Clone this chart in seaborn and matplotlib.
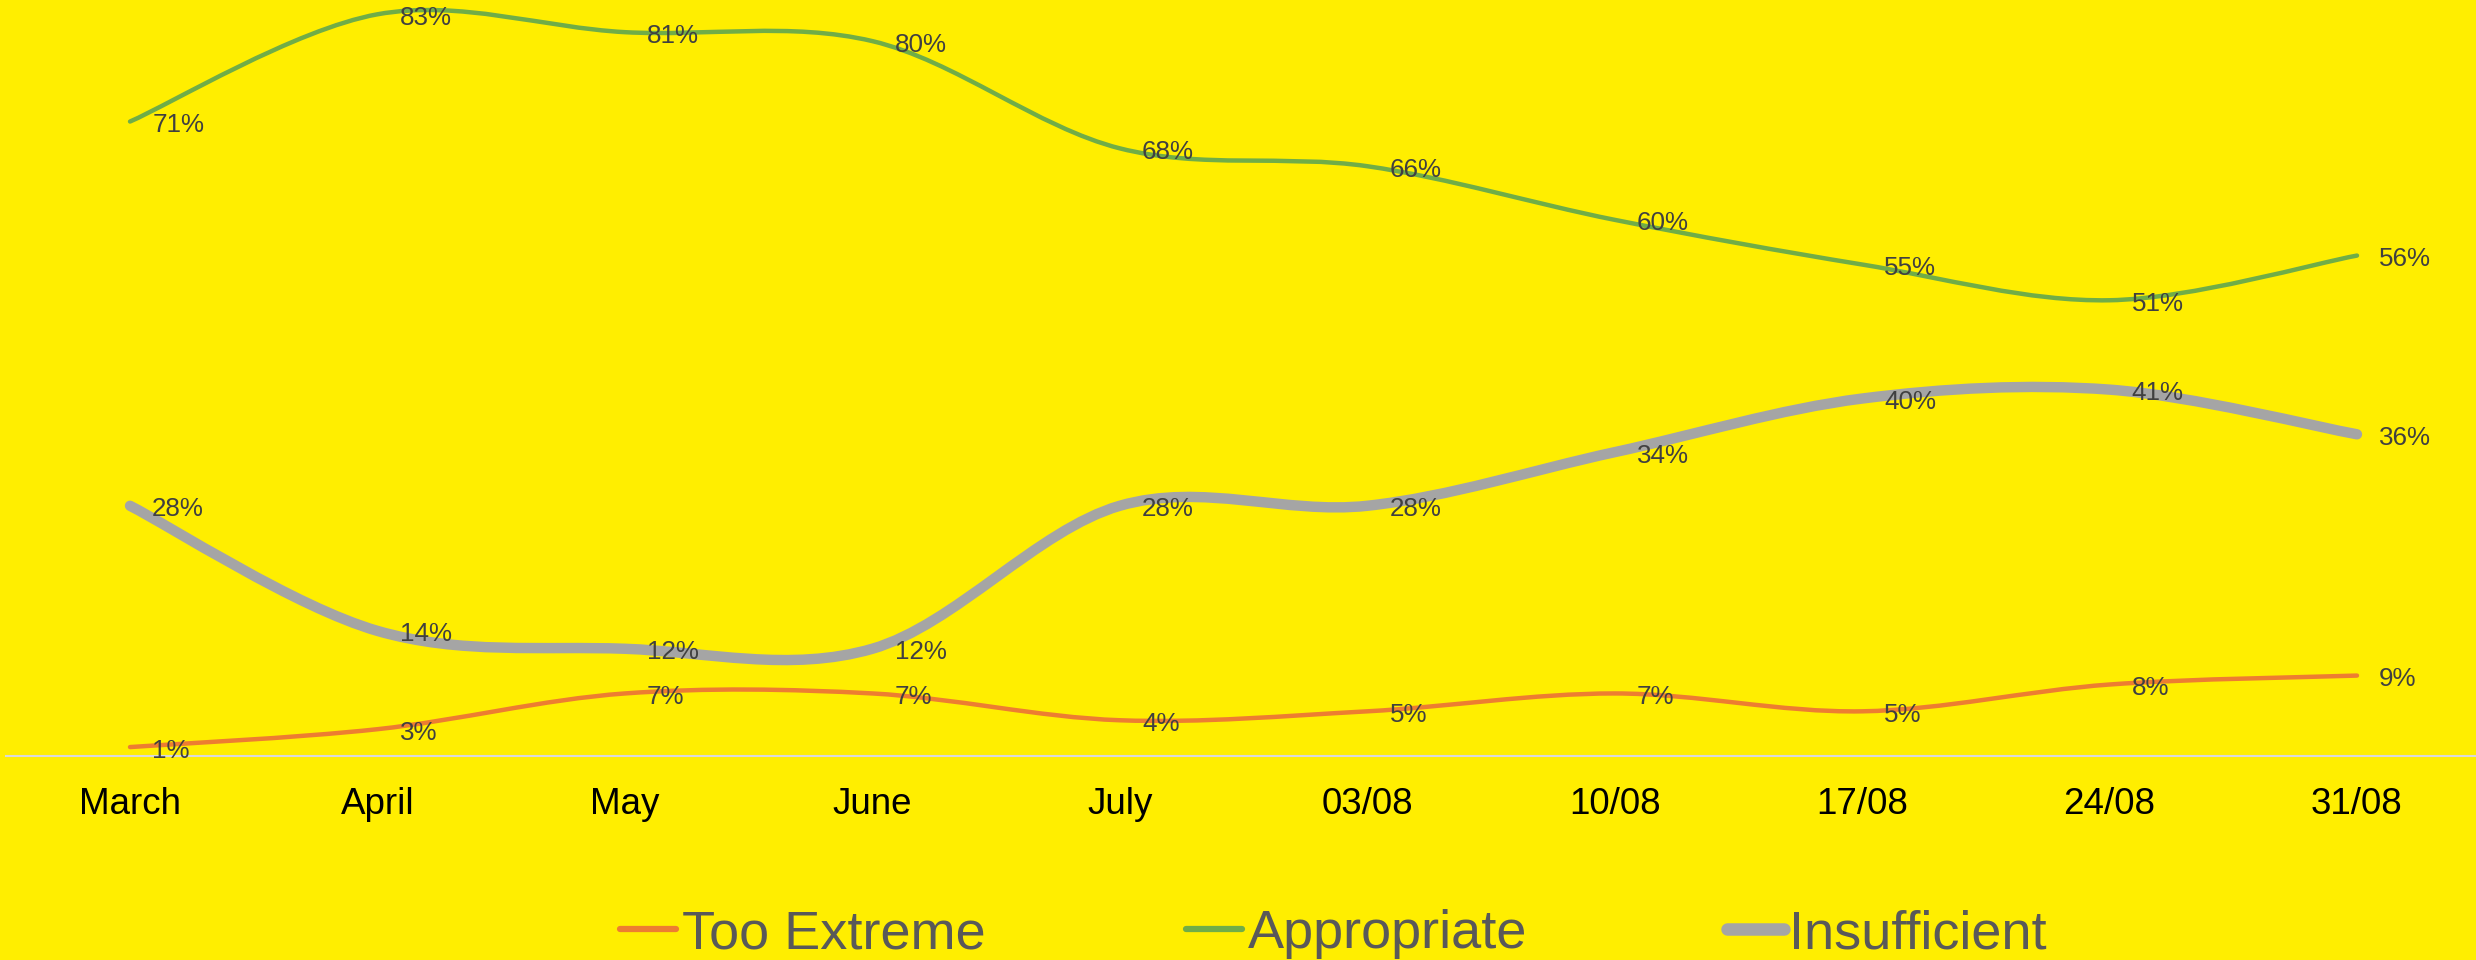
import numpy as np
import matplotlib
matplotlib.use("Agg")
import matplotlib.pyplot as plt
from matplotlib.path import Path
from matplotlib.patches import PathPatch
from matplotlib.lines import Line2D
import seaborn as sns

# ----------------------------
# Data
# ----------------------------
categories = ["March", "April", "May", "June", "July",
              "03/08", "10/08", "17/08", "24/08", "31/08"]
too_extreme = [1, 3, 7, 7, 4, 5, 7, 5, 8, 9]
appropriate = [71, 83, 81, 80, 68, 66, 60, 55, 51, 56]
insufficient = [28, 14, 12, 12, 28, 28, 34, 40, 41, 36]

series_names = ["Too Extreme", "Appropriate", "Insufficient"]
series_values = [too_extreme, appropriate, insufficient]

# Style
sns.set_theme(style="white")
plt.rcParams["font.family"] = ["Liberation Sans", "DejaVu Sans"]
colors = sns.color_palette(["#ED7D31", "#70AD47", "#A5A5A5"])
widths = [3.2, 3.2, 7.5]
bg = "#FFEE00"


def smooth_path(xs, ys):
    # Excel-like smoothed line: cubic bezier segments through the data points
    pts = np.column_stack([xs, ys]).astype(float)
    n = len(pts)
    verts = [pts[0]]
    codes = [Path.MOVETO]
    for i in range(n - 1):
        p0 = pts[max(i - 1, 0)]
        p1 = pts[i]
        p2 = pts[i + 1]
        p3 = pts[min(i + 2, n - 1)]
        c1 = p1 + (p2 - p0) / 6.0
        c2 = p2 - (p3 - p1) / 6.0
        verts += [c1, c2, p2]
        codes += [Path.CURVE4] * 3
    return Path(verts, codes)


fig = plt.figure(figsize=(24.76, 9.6), dpi=100, facecolor=bg)
ax = fig.add_axes([6.3 / 2476, 1 - 756 / 960, 2474.4 / 2476, 756 / 960])
ax.set_facecolor(bg)

x = np.arange(len(categories))
for name, vals, c, lw in zip(series_names, series_values, colors, widths):
    patch = PathPatch(smooth_path(x, vals), facecolor="none", edgecolor=c,
                      lw=lw, capstyle="round", joinstyle="round", clip_on=False)
    ax.add_patch(patch)
    for xi, v in zip(x, vals):
        ax.annotate(f"{v}%", (xi, v), xytext=(16, -2.5), textcoords="offset points",
                    ha="left", va="center", fontsize=18.7, color="#404040")

ax.set_xlim(-0.5, len(categories) - 0.5)
ax.set_ylim(0, 84.6)
ax.set_xticks(x)
ax.set_xticklabels(categories, fontsize=26.5, color="black")
ax.tick_params(axis="x", length=0, pad=22)
ax.set_yticks([])
sns.despine(ax=ax, left=True, top=True, right=True)
ax.spines["bottom"].set_color("#D9D9D9")
ax.spines["bottom"].set_linewidth(1.5)

handles = [Line2D([0], [0], color=c, lw=lw, solid_capstyle="round")
           for c, lw in zip(colors, [4.5, 4.5, 9])]
leg = fig.legend(handles, series_names, loc="center left",
                 bbox_to_anchor=(620 / 2476, 0.027), ncol=3, frameon=False,
                 fontsize=39, handlelength=1.04, handletextpad=0.1,
                 columnspacing=3.7, borderpad=0, borderaxespad=0)
for t in leg.get_texts():
    t.set_color("#595959")

fig.savefig("out.png", dpi=100, facecolor=bg)
